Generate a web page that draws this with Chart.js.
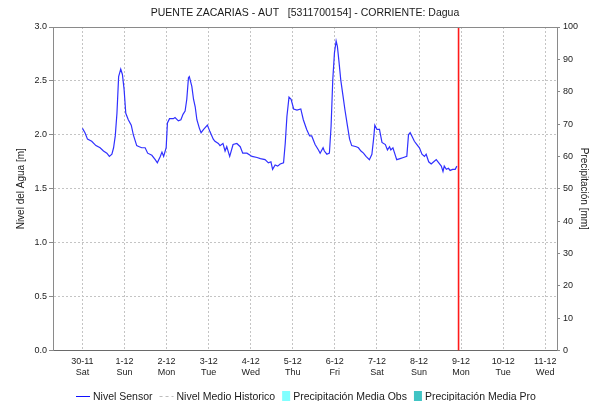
<!DOCTYPE html>
<html>
<head>
<meta charset="utf-8">
<script src="https://cdn.jsdelivr.net/npm/chart.js@4.4.1/dist/chart.umd.min.js"></script>
<style>
  html, body { margin: 0; padding: 0; background: #ffffff; }
  #wrap { width: 593px; height: 401px; }
</style>
</head>
<body>
<div id="wrap"><canvas id="c" width="593" height="401"></canvas></div>
<script>
// ---- data (x = days since 30-11 00:00) ----
const chartTitle = 'PUENTE ZACARIAS - AUT   [5311700154] - CORRIENTE: Dagua';
const leftAxisTitle = 'Nivel del Agua [m]';
const rightAxisTitle = 'Precipitación [mm]';
const dayTicks = [0, 1, 2, 3, 4, 5, 6, 7, 8, 9, 10, 11];
const dayLabels = ['30-11', '1-12', '2-12', '3-12', '4-12', '5-12', '6-12', '7-12', '8-12', '9-12', '10-12', '11-12'];
const weekdayLabels = ['Sat', 'Sun', 'Mon', 'Tue', 'Wed', 'Thu', 'Fri', 'Sat', 'Sun', 'Mon', 'Tue', 'Wed'];
const xRange = [-0.70, 11.28];
const levelTicks = [0, 0.5, 1, 1.5, 2, 2.5, 3];
const precipRange = [0, 100];
const nowMarker = [8.94];
const legendLabels = ['Nivel Sensor', 'Nivel Medio Historico', 'Precipitación Media Obs', 'Precipitación Media Pro'];

const sensorTime = [
  0.00, 0.06, 0.12, 0.22, 0.32, 0.42, 0.50, 0.58, 0.64, 0.70, 0.74, 0.78, 0.82, 0.86, 0.91, 0.95, 0.99,
  1.03, 1.09, 1.16, 1.21, 1.29, 1.35, 1.41, 1.49, 1.55, 1.65, 1.73, 1.78, 1.85, 1.89, 1.93, 1.99,
  2.02, 2.07, 2.16, 2.20, 2.28, 2.34, 2.39, 2.44, 2.48, 2.52, 2.54, 2.60, 2.64, 2.68, 2.72, 2.78, 2.82, 2.88, 2.97,
  3.03, 3.11, 3.15, 3.23, 3.27, 3.34, 3.39, 3.43, 3.50, 3.58, 3.67, 3.75, 3.81, 3.91,
  4.03, 4.15, 4.23, 4.34, 4.42, 4.48, 4.52, 4.58, 4.64, 4.70, 4.78, 4.82, 4.86, 4.91, 4.96,
  5.02, 5.10, 5.19, 5.25, 5.33, 5.40, 5.45, 5.53, 5.61, 5.65, 5.72, 5.75, 5.81, 5.87, 5.91, 5.95, 5.99,
  6.03, 6.06, 6.10, 6.14, 6.19, 6.24, 6.30, 6.35, 6.40, 6.51, 6.56, 6.62, 6.68, 6.74, 6.82, 6.88, 6.92, 6.95,
  7.00, 7.06, 7.12, 7.20, 7.25, 7.30, 7.33, 7.38, 7.42, 7.47, 7.55, 7.63, 7.71, 7.75, 7.79, 7.83, 7.89, 7.95,
  8.01, 8.07, 8.13, 8.17, 8.23, 8.29, 8.35, 8.41, 8.47, 8.53, 8.57, 8.60, 8.65, 8.70, 8.74, 8.80, 8.86, 8.90
];
const sensorLevel = [
  2.06, 2.02, 1.96, 1.94, 1.90, 1.88, 1.85, 1.83, 1.80, 1.82, 1.88, 1.99, 2.20, 2.54, 2.61, 2.56, 2.42,
  2.20, 2.14, 2.09, 2.00, 1.90, 1.89, 1.88, 1.88, 1.83, 1.81, 1.77, 1.74, 1.80, 1.84, 1.80, 1.88,
  2.11, 2.15, 2.15, 2.16, 2.13, 2.14, 2.19, 2.22, 2.33, 2.53, 2.54, 2.45, 2.33, 2.26, 2.14, 2.06, 2.02, 2.05, 2.09,
  2.03, 1.96, 1.94, 1.92, 1.90, 1.92, 1.85, 1.89, 1.80, 1.91, 1.92, 1.89, 1.83, 1.83,
  1.80, 1.79, 1.78, 1.77, 1.74, 1.75, 1.68, 1.72, 1.71, 1.73, 1.74, 1.92, 2.17, 2.35, 2.33,
  2.24, 2.23, 2.24, 2.14, 2.05, 1.99, 1.99, 1.91, 1.86, 1.83, 1.88, 1.85, 1.82, 1.83, 2.08, 2.51, 2.76,
  2.87, 2.82, 2.67, 2.51, 2.37, 2.23, 2.08, 1.96, 1.90, 1.89, 1.88, 1.85, 1.83, 1.80, 1.77, 1.82, 1.96, 2.09,
  2.05, 2.05, 1.93, 1.91, 1.86, 1.89, 1.86, 1.88, 1.83, 1.77, 1.78, 1.79, 1.80, 2.00, 2.02, 1.99, 1.94, 1.91,
  1.88, 1.82, 1.80, 1.82, 1.75, 1.73, 1.75, 1.77, 1.74, 1.71, 1.66, 1.71, 1.68, 1.69, 1.67, 1.68, 1.68, 1.71
];

// ---- styles ----
const FONT = '"Liberation Sans", Arial, sans-serif';
const TEXT = '#1a1a1a';
const GRID = '#c4c4c4';
const AXIS = '#8a8a8a';

const frameAndText = {
  id: 'frameAndText',
  afterDraw(chart) {
    const ctx = chart.ctx;
    const a = chart.chartArea;
    ctx.save();
    // top frame line
    ctx.strokeStyle = AXIS;
    ctx.lineWidth = 1;
    ctx.beginPath();
    ctx.moveTo(a.left, Math.round(a.top) + 0.5);
    ctx.lineTo(a.right, Math.round(a.top) + 0.5);
    ctx.stroke();
    // title
    ctx.fillStyle = TEXT;
    ctx.font = '10.5px ' + FONT;
    ctx.textAlign = 'center';
    ctx.textBaseline = 'middle';
    ctx.fillText(chartTitle, (a.left + a.right) / 2, 13);
    // legend
    const y = 396;
    let x = 76;
    ctx.textAlign = 'left';
    ctx.font = '10.5px ' + FONT;
    const kinds = [
      {type: 'line', color: '#1010ff'},
      {type: 'dash', color: '#bdbdbd'},
      {type: 'box', color: '#80ffff'},
      {type: 'box', color: '#40c4c4'}
    ];
    legendLabels.forEach((lab, i) => {
      const k = kinds[i];
      if (k.type === 'line' || k.type === 'dash') {
        ctx.strokeStyle = k.color;
        ctx.lineWidth = 1;
        ctx.setLineDash(k.type === 'dash' ? [3, 3] : []);
        ctx.beginPath();
        ctx.moveTo(x, y + 0.5);
        ctx.lineTo(x + 14, y + 0.5);
        ctx.stroke();
        ctx.setLineDash([]);
        x += 17;
      } else {
        ctx.fillStyle = k.color;
        ctx.fillRect(x, y - 5, 8, 10);
        x += 11;
      }
      ctx.fillStyle = TEXT;
      ctx.fillText(lab, x, y + 1);
      x += ctx.measureText(lab).width + 7;
    });
    ctx.restore();
  }
};

new Chart(document.getElementById('c'), {
  type: 'line',
  data: {
    datasets: [
      {
        label: legendLabels[0],
        data: sensorTime.map((t, i) => ({x: t, y: sensorLevel[i]})),
        borderColor: '#3030ff',
        borderWidth: 1.2,
        pointRadius: 0,
        tension: 0,
        fill: false,
        yAxisID: 'y'
      },
      {
        label: 'now',
        data: [{x: nowMarker[0], y: levelTicks[0]}, {x: nowMarker[0], y: levelTicks[levelTicks.length - 1]}],
        borderColor: '#ff1a1a',
        borderWidth: 1.6,
        pointRadius: 0,
        fill: false,
        yAxisID: 'y'
      }
    ]
  },
  options: {
    responsive: false,
    animation: false,
    devicePixelRatio: 1,
    layout: {padding: {top: 27, left: 0, right: 0, bottom: 0}},
    plugins: {
      legend: {display: false},
      title: {display: false},
      tooltip: {enabled: false}
    },
    scales: {
      x: {
        type: 'linear',
        min: xRange[0],
        max: xRange[1],
        afterFit(s) { s.height = 50.5; },
        afterBuildTicks(s) { s.ticks = dayTicks.map(v => ({value: v})); },
        ticks: {
          autoSkip: false,
          maxRotation: 0,
          padding: 6,
          color: TEXT,
          font: {family: FONT, size: 9, lineHeight: 1.15},
          callback(v) {
            const i = dayTicks.indexOf(v);
            return i < 0 ? '' : [dayLabels[i], weekdayLabels[i]];
          }
        },
        grid: {color: GRID, lineWidth: 1, drawTicks: false},
        border: {display: true, color: '#6a6a6a', width: 1, dash: [2, 2]}
      },
      y: {
        type: 'linear',
        position: 'left',
        min: levelTicks[0],
        max: levelTicks[levelTicks.length - 1],
        afterFit(s) { s.width = 53; },
        afterBuildTicks(s) { s.ticks = levelTicks.map(v => ({value: v})); },
        ticks: {
          padding: 2,
          color: TEXT,
          font: {family: FONT, size: 9},
          callback(v) { return Number(v).toFixed(1); }
        },
        grid: {color: GRID, lineWidth: 1, tickLength: 4, tickColor: AXIS, tickBorderDash: []},
        border: {display: true, color: AXIS, width: 1, dash: [2, 2]},
        title: {display: true, text: leftAxisTitle, color: TEXT, font: {family: FONT, size: 10}, padding: {top: 15, bottom: 0}}
      },
      y1: {
        type: 'linear',
        position: 'right',
        min: precipRange[0],
        max: precipRange[1],
        afterFit(s) { s.width = 36; },
        ticks: {
          stepSize: 10,
          padding: 3,
          color: TEXT,
          font: {family: FONT, size: 9}
        },
        grid: {drawOnChartArea: false, tickLength: 3, tickColor: AXIS},
        border: {display: true, color: AXIS, width: 1},
        title: {display: true, text: rightAxisTitle, color: TEXT, font: {family: FONT, size: 10}, padding: {top: 3, bottom: 0}}
      }
    }
  },
  plugins: [frameAndText]
});
</script>
</body>
</html>
